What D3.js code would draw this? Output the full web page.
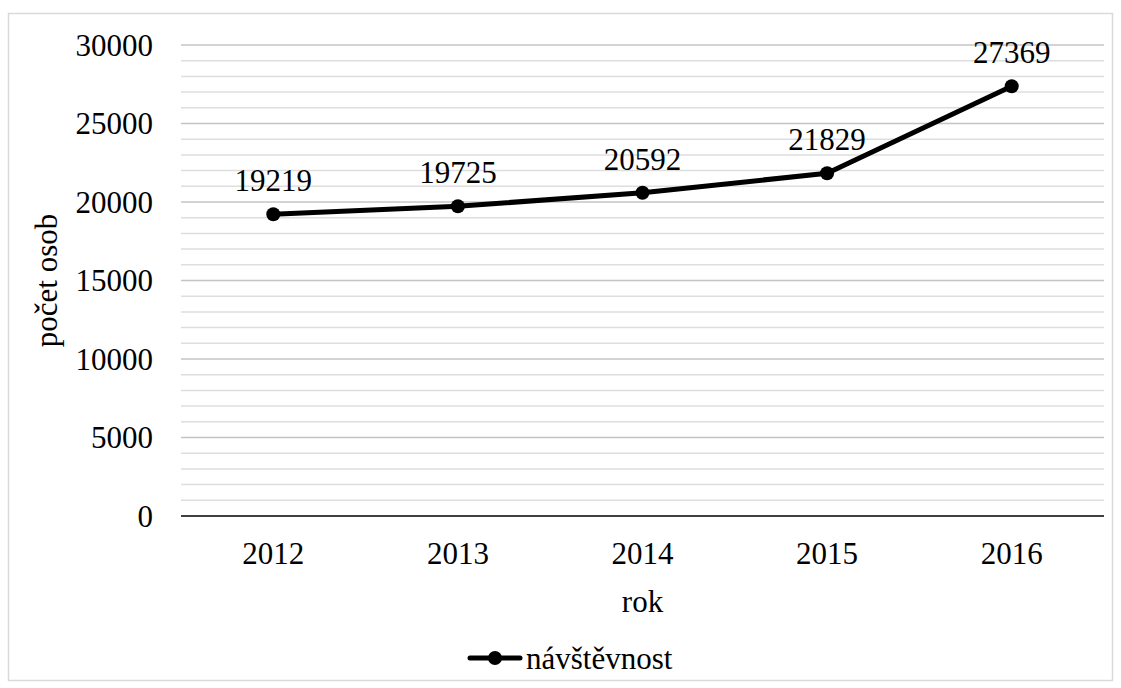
<!DOCTYPE html>
<html>
<head>
<meta charset="utf-8">
<script src="https://cdn.jsdelivr.net/npm/d3@7"></script>
<style>
  svg text { font-family: "Liberation Serif", Tinos, "Times New Roman", serif !important; }
</style>
</head>
<body style="margin:0">
<script>
// chart data
var years = ['2012', '2013', '2014', '2015', '2016'];
var visits = [19219, 19725, 20592, 21829, 27369];
var yTicks = [0, 5000, 10000, 15000, 20000, 25000, 30000];
var seriesName = 'návštěvnost';

var width = 1121;
var height = 688;
var margin = { top: 45, left: 181, bottom: 172, right: 17 };
var fontSize = 31;

var svg = d3.select('body')
  .append('svg')
  .attr('width', width)
  .attr('height', height);

// chart border
svg.append('rect')
  .attr('x', 8.5)
  .attr('y', 13.5)
  .attr('width', 1104)
  .attr('height', 667)
  .attr('fill', 'none')
  .attr('stroke', '#d9d9d9')
  .attr('stroke-width', 1.5);

var x = d3.scaleBand()
  .domain(years)
  .range([margin.left, width - margin.right]);

var y = d3.scaleLinear()
  .domain([0, 30000])
  .range([height - margin.bottom, margin.top]);

var g = svg.append('g');

// minor gridlines every 1000
g.selectAll('line.minor')
  .data(d3.range(1000, 30000, 1000).filter(function (d) { return d % 5000 !== 0; }))
  .enter()
  .append('line')
  .attr('class', 'minor')
  .attr('x1', margin.left)
  .attr('x2', width - margin.right)
  .attr('y1', function (d) { return y(d); })
  .attr('y2', function (d) { return y(d); })
  .attr('stroke', '#dedede')
  .attr('stroke-width', 1.5);

// major gridlines
g.selectAll('line.major')
  .data(yTicks.slice(1))
  .enter()
  .append('line')
  .attr('class', 'major')
  .attr('x1', margin.left)
  .attr('x2', width - margin.right)
  .attr('y1', function (d) { return y(d); })
  .attr('y2', function (d) { return y(d); })
  .attr('stroke', '#c4c4c4')
  .attr('stroke-width', 1.5);

// x axis line
g.append('line')
  .attr('x1', margin.left)
  .attr('x2', width - margin.right)
  .attr('y1', y(0))
  .attr('y2', y(0))
  .attr('stroke', '#000')
  .attr('stroke-width', 1.5);

// same font for every text
function label(sel) {
  return sel
    .attr('font-size', fontSize)
    .style('font-family', '"Liberation Serif", Tinos, serif', 'important');
}

// y tick labels
g.selectAll('text.ytick')
  .data(yTicks)
  .enter()
  .append('text')
  .attr('class', 'ytick')
  .attr('x', 153)
  .attr('y', function (d) { return y(d); })
  .attr('dy', '0.34em')
  .attr('text-anchor', 'end')
  .call(label)
  .text(function (d) { return d; });

// x tick labels
g.selectAll('text.xtick')
  .data(years)
  .enter()
  .append('text')
  .attr('class', 'xtick')
  .attr('x', function (d) { return x(d) + x.bandwidth() / 2; })
  .attr('y', 564)
  .attr('text-anchor', 'middle')
  .call(label)
  .text(function (d) { return d; });

// axis titles
svg.append('text')
  .attr('x', x.range()[0] + (x.range()[1] - x.range()[0]) / 2)
  .attr('y', 612)
  .attr('text-anchor', 'middle')
  .call(label)
  .text('rok');

svg.append('text')
  .attr('transform', 'translate(57,' + y(15000) + ') rotate(-90)')
  .attr('text-anchor', 'middle')
  .call(label)
  .text('počet osob');

// series
var line = d3.line()
  .x(function (d, i) { return x(years[i]) + x.bandwidth() / 2; })
  .y(function (d) { return y(d); });

g.append('path')
  .datum(visits)
  .attr('d', line)
  .attr('fill', 'none')
  .attr('stroke', '#000')
  .attr('stroke-width', 5)
  .attr('stroke-linejoin', 'round');

g.selectAll('circle.pt')
  .data(visits)
  .enter()
  .append('circle')
  .attr('class', 'pt')
  .attr('cx', function (d, i) { return x(years[i]) + x.bandwidth() / 2; })
  .attr('cy', function (d) { return y(d); })
  .attr('r', 7)
  .attr('fill', '#000');

// data labels
g.selectAll('text.lbl')
  .data(visits)
  .enter()
  .append('text')
  .attr('class', 'lbl')
  .attr('x', function (d, i) { return x(years[i]) + x.bandwidth() / 2; })
  .attr('y', function (d) { return y(d) - 23; })
  .attr('text-anchor', 'middle')
  .call(label)
  .text(function (d) { return d; });

// legend
var lg = svg.append('g').attr('transform', 'translate(0,658)');
lg.append('line')
  .attr('x1', 470).attr('x2', 520)
  .attr('y1', 0).attr('y2', 0)
  .attr('stroke', '#000')
  .attr('stroke-width', 5)
  .attr('stroke-linecap', 'round');
lg.append('circle')
  .attr('cx', 495).attr('cy', 0).attr('r', 7)
  .attr('fill', '#000');
lg.append('text')
  .attr('x', 526)
  .attr('y', 0)
  .attr('dy', '0.34em')
  .call(label)
  .text(seriesName);
</script>
</body>
</html>
